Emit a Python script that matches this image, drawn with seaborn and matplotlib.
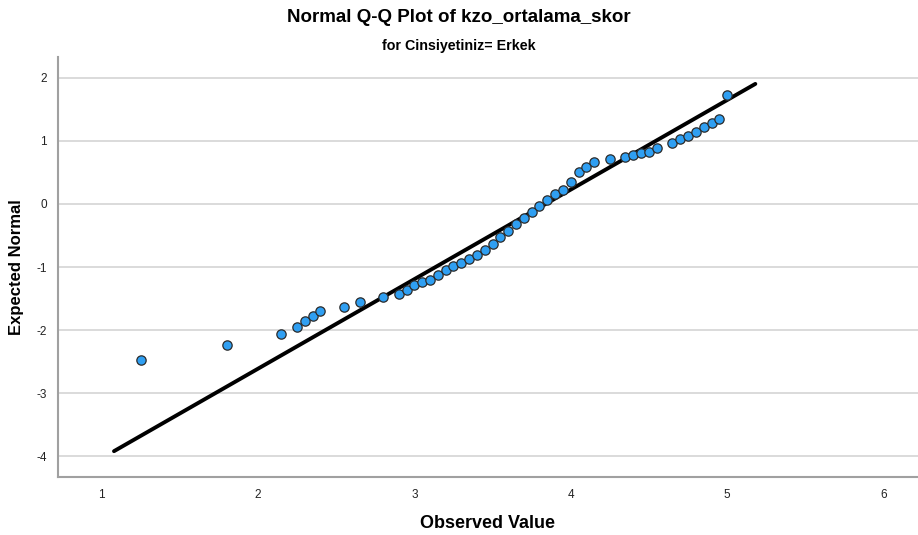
import matplotlib
matplotlib.use("Agg")
import matplotlib.pyplot as plt
import numpy as np
import pandas as pd
import seaborn as sns

observed = [1.25, 1.80, 2.15, 2.25, 2.30, 2.35, 2.40, 2.55, 2.65, 2.80,
            2.90, 2.95, 3.00, 3.05, 3.10, 3.15, 3.20, 3.25, 3.30, 3.35,
            3.40, 3.45, 3.50, 3.55, 3.60, 3.65, 3.70, 3.75, 3.80, 3.85,
            3.90, 3.95, 4.00, 4.05, 4.10, 4.15, 4.25, 4.35, 4.40, 4.45,
            4.50, 4.55, 4.65, 4.70, 4.75, 4.80, 4.85, 4.90, 4.95, 5.00]
expected = [-2.48, -2.23, -2.07, -1.95, -1.85, -1.77, -1.70, -1.63, -1.55, -1.47,
            -1.43, -1.36, -1.29, -1.24, -1.20, -1.13, -1.05, -0.98, -0.93, -0.88,
            -0.81, -0.73, -0.63, -0.53, -0.43, -0.32, -0.23, -0.13, -0.04, 0.06,
            0.15, 0.22, 0.34, 0.50, 0.59, 0.66, 0.71, 0.75, 0.77, 0.80,
            0.83, 0.89, 0.96, 1.03, 1.08, 1.14, 1.22, 1.29, 1.35, 1.72]

# reference line: normal with the sample mean / sd
mean_val = 3.84
sd_val = 0.704
line_x = [1.08, 5.18]

x_ticks = [1, 2, 3, 4, 5, 6]
y_ticks = [2, 1, 0, -1, -2, -3, -4]

df = pd.DataFrame({"observed": observed, "expected": expected})
line_df = pd.DataFrame({"x": line_x})
line_df["y"] = (line_df.x - mean_val) / sd_val

sns.set_style("white")
plt.rcParams["font.family"] = ["Liberation Sans", "DejaVu Sans"]
plt.rcParams["axes.unicode_minus"] = False

fig = plt.figure(figsize=(9.18, 5.35), dpi=100)
ax = fig.add_axes([58 / 918, 1 - 477 / 535, 1 - 58 / 918, (477 - 57) / 535])

for yt in y_ticks:
    ax.axhline(yt, color="#d4d4d4", lw=1.2, zorder=0)

sns.lineplot(x="x", y="y", data=line_df, color="black", lw=2.8, ax=ax, zorder=2)
sns.scatterplot(x="observed", y="expected", data=df, color="#2f9ff2",
                edgecolor="#2b2b2b", linewidth=0.9, s=45, ax=ax, zorder=3)

ax.set_xlim(0.722, 6.22)
ax.set_ylim(-4.33, 2.33)
ax.set_xticks(x_ticks)
ax.set_yticks(y_ticks)
ax.tick_params(axis="both", length=0, labelsize=8.5, labelcolor="#222222")
ax.tick_params(axis="x", pad=9)
ax.tick_params(axis="y", pad=8)

for side in ["top", "right"]:
    ax.spines[side].set_visible(False)
for side in ["left", "bottom"]:
    ax.spines[side].set_color("#a0a0a0")
    ax.spines[side].set_linewidth(1.5)

ax.set_xlabel("Observed Value", fontsize=13, fontweight="bold", color="black", labelpad=10)
ax.set_ylabel("Expected Normal", fontsize=12, fontweight="bold", color="black", labelpad=9)

fig.text(0.5, 1 - 17 / 535, "Normal Q-Q Plot of kzo_ortalama_skor",
         ha="center", va="center", fontsize=13.5, fontweight="bold", color="black")
fig.text(0.5, 1 - 46 / 535, "for Cinsiyetiniz= Erkek",
         ha="center", va="center", fontsize=10.3, fontweight="bold", color="black")

fig.savefig("out.png", dpi=100)
